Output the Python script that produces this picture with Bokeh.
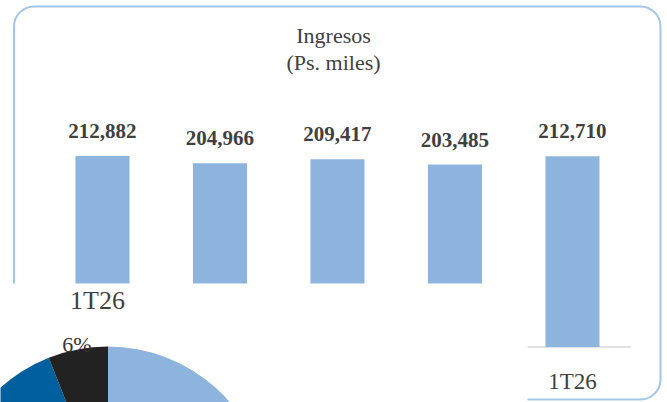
import math

from bokeh.core.properties import value
from bokeh.embed import file_html
from bokeh.models import BoxAnnotation, Range1d
from bokeh.plotting import figure
from bokeh.resources import INLINE

# Quarterly revenue, thousands of pesos
quarters = ["1T25", "2T25", "3T25", "4T25", "1T26"]
revenue = [212882, 204966, 209417, 203485, 212710]
chart_title = ["Ingresos", "(Ps. miles)"]

# Revenue mix of the latest quarter (pie)
mix_title = "1T26"
mix_share = [70, 24, 6]
mix_colors = ["#8DB4DD", "#00609E", "#222222"]

W, H = 667, 402
SERIF = value("Liberation Serif")
TEXT_COLOR = "#404040"
BAR_COLOR = "#8DB4DD"

p = figure(
    width=W, height=H,
    output_backend="svg", toolbar_location=None,
    x_range=Range1d(-0.868, 4.809),
    y_range=Range1d(-62000, 386500),
    x_axis_type=None, y_axis_type=None,
    min_border=0,
)
p.grid.visible = False
p.outline_line_color = None
p.background_fill_color = "white"
p.border_fill_color = "white"

# pixel-like ranges (origin bottom-left) for the framing and the pie
p.extra_x_ranges = {"px": Range1d(0, W)}
p.extra_y_ranges = {"px": Range1d(0, H)}
PX = dict(x_range_name="px", y_range_name="px")

# rounded chart border
p.add_layout(BoxAnnotation(
    left=13.5, right=660, top=H - 6, bottom=H - 399,
    fill_color=None, line_color="#A3C5EA", line_alpha=1.0, line_width=2,
    border_radius=20, level="underlay", **PX,
))

idx = list(range(len(quarters)))

# category axis line
p.segment(x0=[-0.5], x1=[len(quarters) - 0.5], y0=[0], y1=[0],
          line_color="#D9D9D9", line_width=1.5)

# bars
p.vbar(x=idx, top=revenue, bottom=0, width=0.46,
       fill_color=BAR_COLOR, line_color=None)

# value labels
p.text(x=idx, y=revenue, text=[f"{v:,}" for v in revenue],
       text_font=SERIF, text_font_style="bold", text_font_size="21px",
       text_color=TEXT_COLOR, text_align="center",
       text_baseline="middle", y_offset=-25)

# category labels
p.text(x=idx, y=[0] * len(idx), text=quarters,
       text_font=SERIF, text_font_size="23px", text_color=TEXT_COLOR,
       text_align="center", text_baseline="middle", y_offset=35)

# chart title
p.text(x=[333, 333], y=[H - 35, H - 62], text=chart_title,
       text_font=SERIF, text_font_size="22px", text_color=TEXT_COLOR,
       text_align="center", text_baseline="middle", **PX)

# panel of the pie chart laid over the lower-left corner
p.quad(left=[0], right=[527], bottom=[0], top=[H - 283],
       fill_color="white", line_color=None, **PX)

p.text(x=[97], y=[H - 300], text=[mix_title],
       text_font=SERIF, text_font_size="26px", text_color=TEXT_COLOR,
       text_align="center", text_baseline="middle", **PX)

# pie: clockwise from 12 o'clock
cx, cy, r = 107.5, H - 507, 161
starts, ends = [], []
lab_x, lab_y, lab_t = [], [], []
cum = 0.0
for s in mix_share:
    a0 = math.pi / 2 - 2 * math.pi * cum / 100
    a1 = math.pi / 2 - 2 * math.pi * (cum + s) / 100
    starts.append(a0)
    ends.append(a1)
    mid = (a0 + a1) / 2
    tx = cx + (r + 5) * math.cos(mid)
    ty = cy + (r + 5) * math.sin(mid)
    # only slices whose label lands inside the drawing area get one
    if 15 <= tx <= W - 15 and 10 <= ty <= H - 10:
        lab_x.append(tx)
        lab_y.append(ty)
        lab_t.append(f"{s}%")
    cum += s

p.wedge(x=cx, y=cy, radius=r, start_angle=starts, end_angle=ends,
        direction="clock", fill_color=mix_colors, line_color=None, **PX)

p.text(x=lab_x, y=lab_y, text=lab_t,
       text_font=SERIF, text_font_size="22px", text_color="#333333",
       text_align="center", text_baseline="middle", **PX)

open("out.html", "w").write(file_html(p, INLINE))
